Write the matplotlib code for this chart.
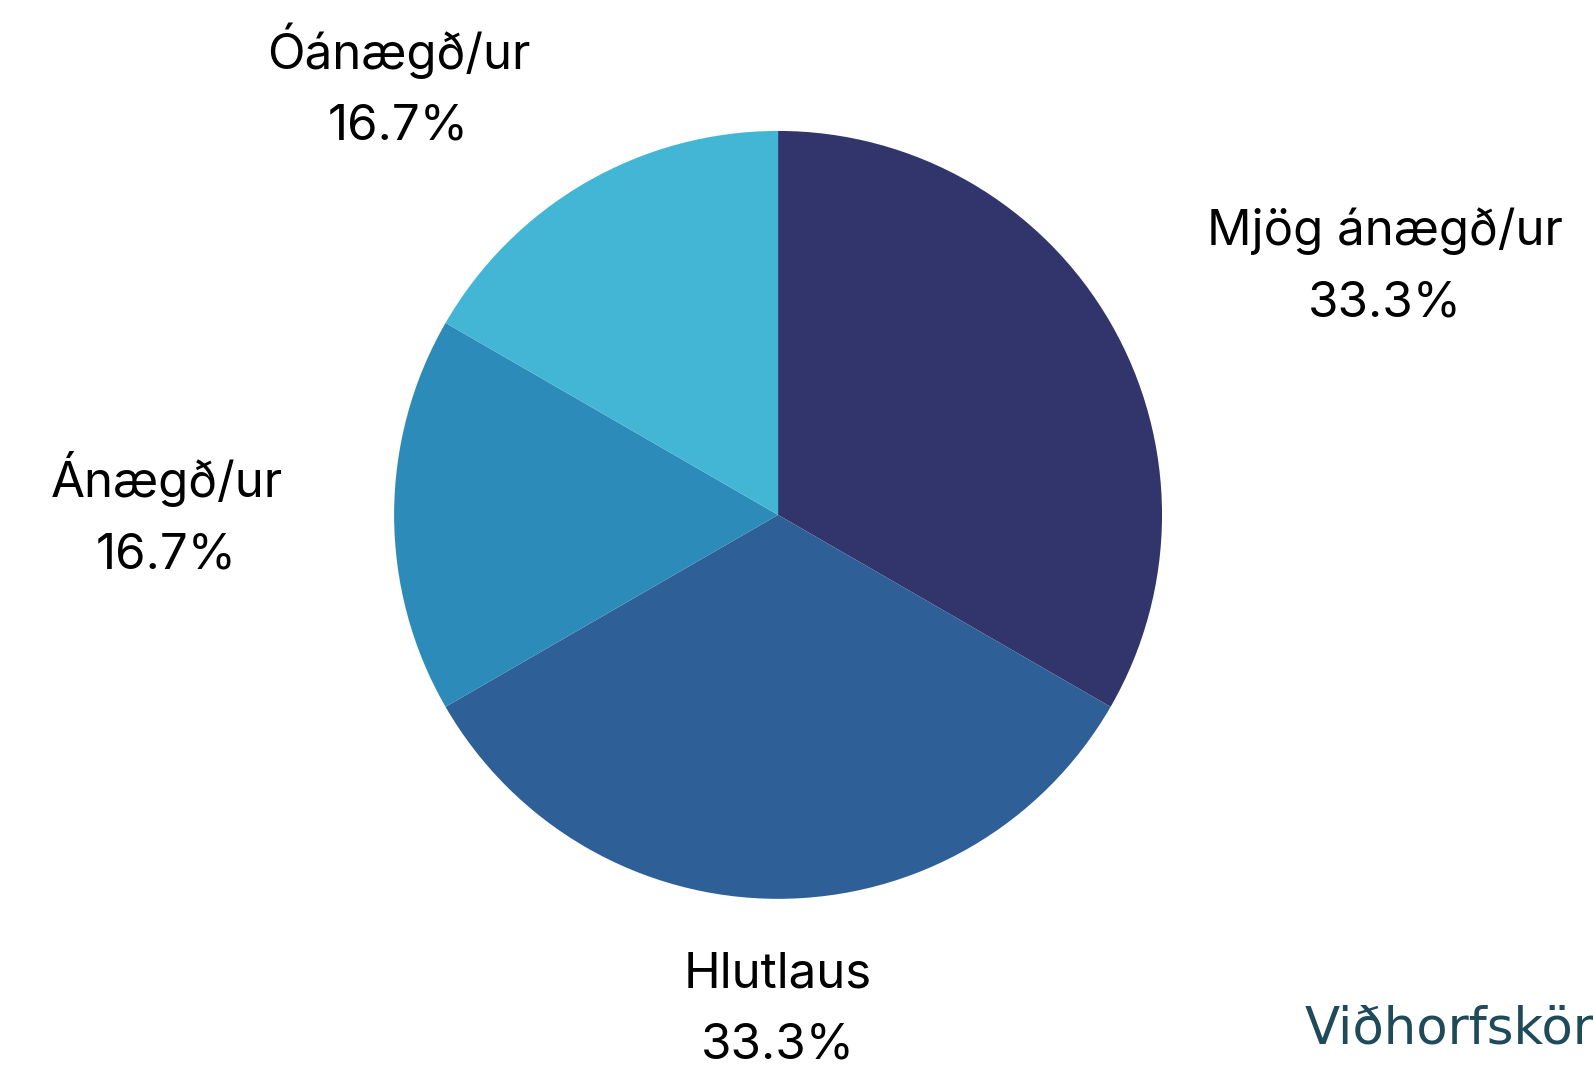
import numpy as np
import matplotlib
matplotlib.use('Agg')
import matplotlib.pyplot as plt

plt.rcParams['font.family'] = ['Inter', 'DejaVu Sans']

labels = ['Mjög ánægð/ur', 'Hlutlaus', 'Ánægð/ur', 'Óánægð/ur']
counts = [2, 2, 1, 1]
colors = ['#32356b', '#2e5f97', '#2d8bba', '#43b6d6']

fig = plt.figure(figsize=(15.93, 10.72), dpi=100)
ax = fig.add_axes([0, 0, 1, 1])

wedges, _ = ax.pie(counts, colors=colors, startangle=90, counterclock=False,
                   radius=1, wedgeprops=dict(linewidth=0))

total = sum(counts)
for w, lab, c in zip(wedges, labels, counts):
    mid = np.deg2rad((w.theta1 + w.theta2) / 2)
    x, y = 1.29 * np.cos(mid), 1.29 * np.sin(mid)
    if abs(x) < 0.05:
        ha = 'center'
    elif x > 0:
        ha = 'left'
    else:
        ha = 'right'
    ax.text(x, y, f'{lab}\n{c / total * 100:.1f}%', ha=ha, va='center',
            fontsize=35.5, linespacing=1.7, multialignment='center')

ax.set_xlim(-2.026, 2.122)
ax.set_ylim(-1.451, 1.341)
ax.axis('off')

# watermark, cut off at the right edge like in the original
fig.text(1305 / 1593, 1 - 1030 / 1072, 'Viðhorfskönnun', color='#1e4a5a',
         fontsize=37, family='DejaVu Sans', ha='left', va='center')

fig.savefig('out.png', dpi=100)
